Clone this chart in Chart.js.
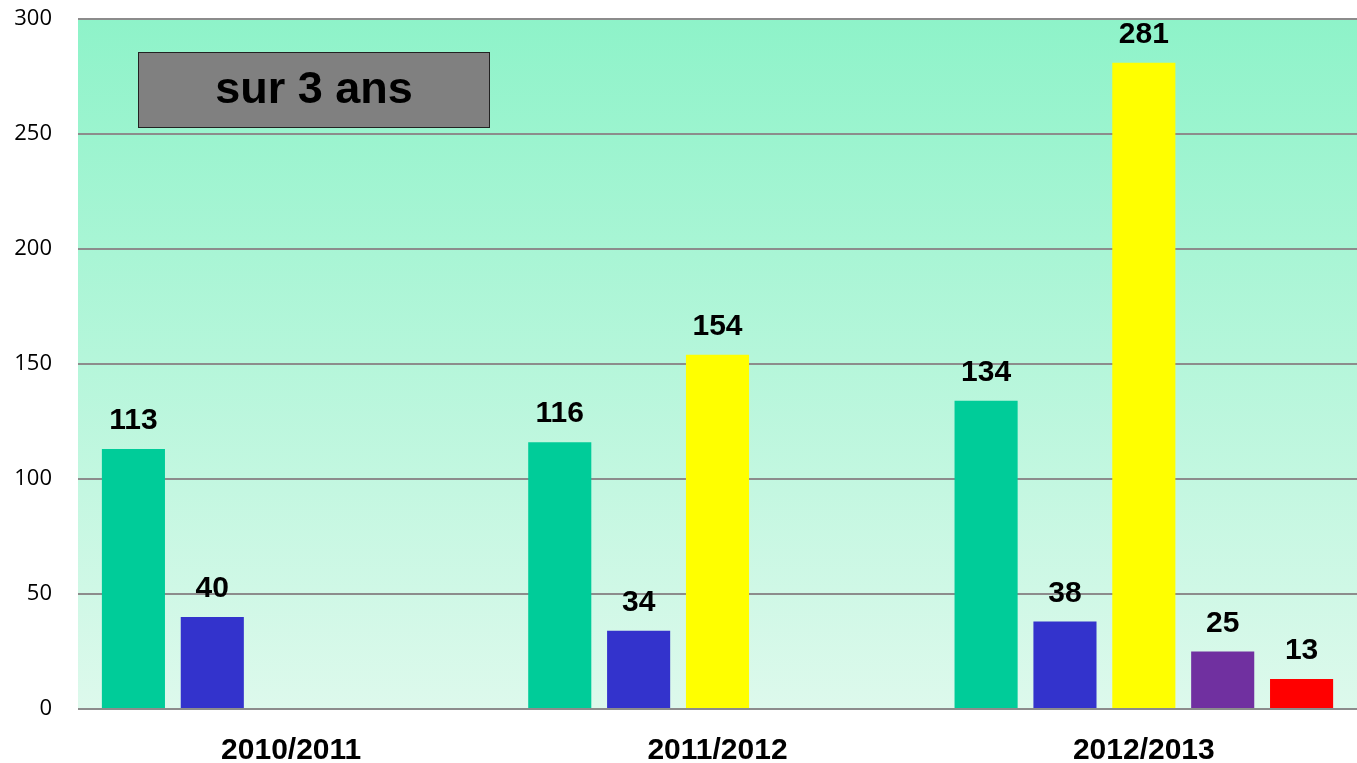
<!DOCTYPE html>
<html>
<head>
<meta charset="utf-8">
<script src="https://cdn.jsdelivr.net/npm/chart.js@4"></script>
<style>
  html, body { margin: 0; padding: 0; background: #fff; }
  #wrap { width: 1357px; height: 763px; }
</style>
</head>
<body>
<div id="wrap"><canvas id="chart"></canvas></div>
<script>
// données
const annees = ['2010/2011', '2011/2012', '2012/2013'];
const serie1 = [113, 116, 134];
const serie2 = [40, 34, 38];
const serie3 = [null, 154, 281];
const serie4 = [null, null, 25];
const serie5 = [null, null, 13];
const couleurs = ['#00cc99', '#3333cc', '#ffff00', '#7030a0', '#ff0000'];
const titre = 'sur 3 ans';

// fond dégradé de la zone de tracé
const fondPlugin = {
  id: 'fond',
  beforeDraw(chart) {
    const { ctx, chartArea: a } = chart;
    const g = ctx.createLinearGradient(0, a.top, 0, a.bottom);
    g.addColorStop(0, '#8ef3c9');
    g.addColorStop(1, '#ddf9ec');
    ctx.save();
    ctx.fillStyle = g;
    ctx.fillRect(a.left, a.top, chart.width - a.left, a.bottom - a.top);
    ctx.restore();
  }
};

// valeurs au-dessus des barres
const valeursPlugin = {
  id: 'valeurs',
  afterDatasetsDraw(chart) {
    const ctx = chart.ctx;
    ctx.save();
    ctx.font = 'bold 30px "Liberation Sans", Arial, sans-serif';
    ctx.fillStyle = '#000';
    ctx.textAlign = 'center';
    ctx.textBaseline = 'alphabetic';
    chart.data.datasets.forEach((ds, i) => {
      chart.getDatasetMeta(i).data.forEach((bar, j) => {
        const v = ds.data[j];
        if (v === null || v === undefined) return;
        ctx.fillText(String(v), bar.x, bar.y - 20);
      });
    });
    ctx.restore();
  }
};

// encadré gris "sur 3 ans"
const titrePlugin = {
  id: 'titre',
  afterDraw(chart) {
    const { ctx, chartArea: a } = chart;
    const x = a.left + 60, y = a.top + 33, w = 352, h = 76;
    ctx.save();
    ctx.fillStyle = '#808080';
    ctx.fillRect(x, y, w, h);
    ctx.strokeStyle = '#222';
    ctx.lineWidth = 1;
    ctx.strokeRect(x + 0.5, y + 0.5, w - 1, h - 1);
    ctx.fillStyle = '#000';
    ctx.font = 'bold 45px "Liberation Sans", Arial, sans-serif';
    ctx.textAlign = 'center';
    ctx.textBaseline = 'middle';
    ctx.fillText(titre, x + w / 2, y + h / 2 + 1);
    ctx.restore();
  }
};

const series = [serie1, serie2, serie3, serie4, serie5];

new Chart(document.getElementById('chart'), {
  type: 'bar',
  data: {
    labels: annees,
    datasets: series.map((d, i) => ({
      label: 'Série ' + (i + 1),
      data: d,
      backgroundColor: couleurs[i],
      borderWidth: 0,
      categoryPercentage: 0.925,
      barPercentage: 0.8,
      skipNull: false
    }))
  },
  options: {
    responsive: true,
    maintainAspectRatio: false,
    animation: false,
    layout: { padding: { top: 19, right: 0, left: 0, bottom: 0 } },
    plugins: {
      legend: { display: false },
      tooltip: { enabled: false }
    },
    scales: {
      x: {
        grid: { display: false },
        border: { display: false },
        ticks: {
          color: '#000',
          padding: 16,
          font: { family: '"Liberation Sans", Arial, sans-serif', size: 30, weight: 'bold' }
        },
        afterFit(s) { s.height = 54; s.paddingLeft = 0; s.paddingRight = 0; }
      },
      y: {
        min: 0,
        max: 300,
        ticks: {
          stepSize: 50,
          color: '#000',
          padding: 26,
          font: { family: '"Open Sans", sans-serif', size: 22 }
        },
        grid: { color: '#8c8c8c', lineWidth: 2, drawTicks: false },
        border: { display: false },
        afterFit(s) { s.width = 78; s.paddingTop = 0; s.paddingBottom = 0; }
      }
    }
  },
  plugins: [fondPlugin, valeursPlugin, titrePlugin]
});
</script>
</body>
</html>
